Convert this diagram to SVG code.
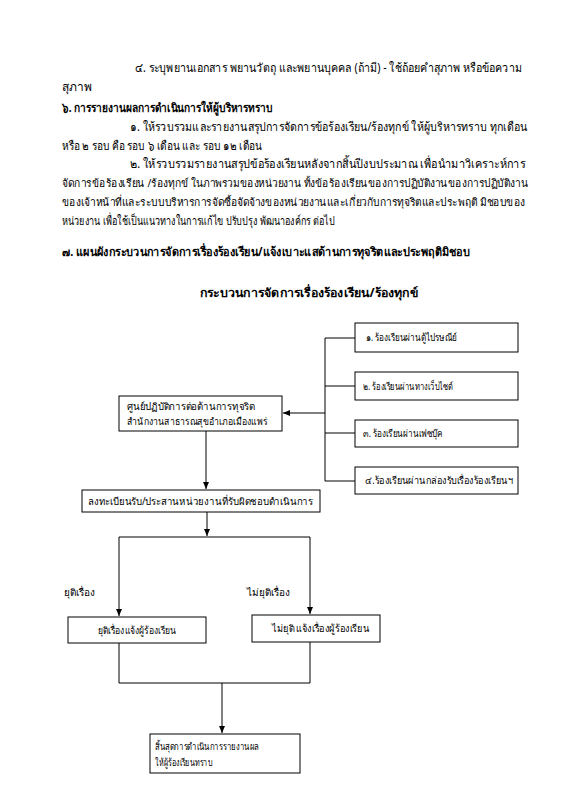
<svg xmlns="http://www.w3.org/2000/svg" width="587" height="800" viewBox="0 0 587 800">
<defs>
<marker id="ah" markerWidth="8" markerHeight="8" refX="7" refY="4" orient="auto" markerUnits="userSpaceOnUse">
<path d="M0,1 L7,4 L0,7 Z" fill="#000"/>
</marker>
<style>
text{font-family:"Noto Sans","Liberation Sans",sans-serif;fill:#000}
.p{font-size:12px}
.s{font-size:11px}
.b{font-size:12px;font-weight:bold}
.n{font-size:10px}
.box{fill:#fff;stroke:#000;stroke-width:1}
.c{fill:none;stroke:#000;stroke-width:1}
.a{fill:none;stroke:#000;stroke-width:1;marker-end:url(#ah)}
</style>
</defs>
<rect width="587" height="800" fill="#fff"/>
<g id="body">
<text class="p" x="135" y="72" textLength="387" lengthAdjust="spacingAndGlyphs">๔. ระบุพยานเอกสาร พยานวัตถุ และพยานบุคคล (ถ้ามี)  - ใช้ถ้อยคำสุภาพ หรือข้อความ</text>
<text class="p" x="62" y="91">สุภาพ</text>
<text class="b" x="62" y="112" textLength="211" lengthAdjust="spacingAndGlyphs">๖. การรายงานผลการดำเนินการให้ผู้บริหารทราบ</text>
<text class="p" x="130" y="131" textLength="397" lengthAdjust="spacingAndGlyphs">๑. ให้รวบรวมและรายงานสรุปการจัดการข้อร้องเรียน/ร้องทุกข์ ให้ผู้บริหารทราบ ทุกเดือน</text>
<text class="p" x="62" y="150" textLength="200" lengthAdjust="spacingAndGlyphs">หรือ ๒ รอบ คือ รอบ ๖ เดือน และ รอบ ๑๒ เดือน</text>
<text class="p" x="130" y="168" textLength="395" lengthAdjust="spacingAndGlyphs">๒. ให้รวบรวมรายงานสรุปข้อร้องเรียนหลังจากสิ้นปีงบประมาณ เพื่อนำมาวิเคราะห์การ</text>
<text class="s" x="62" y="187" textLength="466" lengthAdjust="spacingAndGlyphs">จัดการข้อร้องเรียน /ร้องทุกข์  ในภาพรวมของหน่วยงาน ทั้งข้อร้องเรียนของการปฏิบัติงานของการปฏิบัติงาน</text>
<text class="s" x="62" y="206" textLength="463" lengthAdjust="spacingAndGlyphs">ของเจ้าหน้าที่และระบบบริหารการจัดซื้อจัดจ้างของหน่วยงานและเกี่ยวกับการทุจริตและประพฤติ มิชอบของ</text>
<text class="p" x="62" y="225" textLength="273" lengthAdjust="spacingAndGlyphs">หน่วยงาน เพื่อใช้เป็นแนวทางในการแก้ไข ปรับปรุง พัฒนาองค์กร ต่อไป</text>
<text class="b" x="62" y="256" textLength="408" lengthAdjust="spacingAndGlyphs">๗. แผนผังกระบวนการจัดการเรื่องร้องเรียน/แจ้งเบาะแสด้านการทุจริตและประพฤติมิชอบ</text>
<text class="b" x="200" y="297" textLength="218" lengthAdjust="spacingAndGlyphs">กระบวนการจัดการเรื่องร้องเรียน/ร้องทุกข์</text>
</g>
<g id="connectors">
<path class="c" d="M355,338 H325 V481 H355 M325,386 H355 M325,433 H355"/>
<path class="a" d="M325,413 H283"/>
<path class="a" d="M206,431 V489"/>
<path class="a" d="M207,512 V536"/>
<path class="c" d="M119,537 H310"/>
<path class="a" d="M119,537 V616"/>
<path class="a" d="M310,537 V614"/>
<path class="c" d="M119,643 V683 H310 V642"/>
<path class="a" d="M222,683 V733"/>
</g>
<g id="n-center">
<rect class="box" x="119" y="396" width="163" height="35"/>
<text class="n" x="127" y="410" textLength="128" lengthAdjust="spacingAndGlyphs">ศูนย์ปฏิบัติการต่อต้านการทุจริต</text>
<text class="n" x="127" y="425" textLength="140" lengthAdjust="spacingAndGlyphs">สำนักงานสาธารณสุขอำเภอเมืองแพร่</text>
</g>
<g id="n-ch1">
<rect class="box" x="355" y="323" width="163" height="29"/>
<text class="n" x="366" y="341" textLength="91" lengthAdjust="spacingAndGlyphs">๑.  ร้องเรียนผ่านตู้ไปรษณีย์</text>
</g>
<g id="n-ch2">
<rect class="box" x="355" y="372" width="163" height="28"/>
<text class="n" x="363" y="390" textLength="90" lengthAdjust="spacingAndGlyphs">๒.  ร้องเรียนผ่านทางเว็บไซต์</text>
</g>
<g id="n-ch3">
<rect class="box" x="355" y="420" width="163" height="27"/>
<text class="n" x="363" y="437" textLength="80" lengthAdjust="spacingAndGlyphs">๓.  ร้องเรียนผ่านเฟซบุ๊ค</text>
</g>
<g id="n-ch4">
<rect class="box" x="355" y="467" width="163" height="27"/>
<text class="n" x="365" y="484" textLength="148" lengthAdjust="spacingAndGlyphs">๔.ร้องเรียนผ่านกล่องรับเรื่องร้องเรียนฯ</text>
</g>
<g id="n-register">
<rect class="box" x="82" y="490" width="238" height="22"/>
<text class="n" x="88" y="505" textLength="225" lengthAdjust="spacingAndGlyphs">ลงทะเบียนรับ/ประสานหน่วยงานที่รับผิดชอบดำเนินการ</text>
</g>
<g id="lbl-end">
<text class="n" x="64" y="596">ยุติเรื่อง</text>
<text class="n" x="247" y="596">ไม่ยุติเรื่อง</text>
</g>
<g id="n-resolved">
<rect class="box" x="68" y="617" width="138" height="26"/>
<text class="n" x="98" y="634" textLength="78" lengthAdjust="spacingAndGlyphs">ยุติเรื่องแจ้งผู้ร้องเรียน</text>
</g>
<g id="n-unresolved">
<rect class="box" x="252" y="615" width="128" height="27"/>
<text class="n" x="272" y="632" textLength="97" lengthAdjust="spacingAndGlyphs">ไม่ยุติ แจ้งเรื่องผู้ร้องเรียน</text>
</g>
<g id="n-finish">
<rect class="box" x="150" y="734" width="150" height="39"/>
<text class="n" x="155" y="750" textLength="104" lengthAdjust="spacingAndGlyphs">สิ้นสุดการดำเนินการรายงานผล</text>
<text class="n" x="155" y="766" textLength="57" lengthAdjust="spacingAndGlyphs">ให้ผู้ร้องเรียนทราบ</text>
</g>
</svg>
